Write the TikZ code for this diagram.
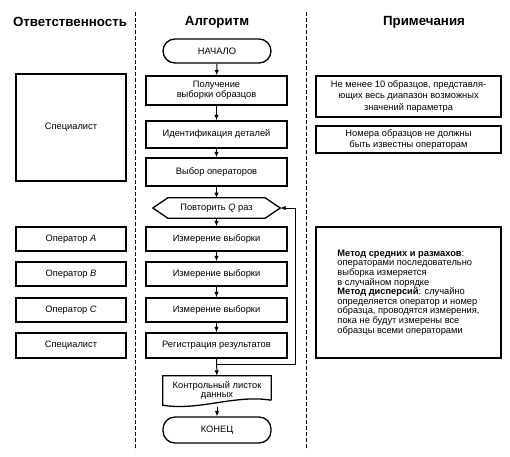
\documentclass[tikz,border=0pt]{standalone}
\usepackage{fontspec}
\setmainfont{Liberation Sans}
\usetikzlibrary{arrows.meta,calc}
\begin{document}
\begin{tikzpicture}[x=1pt,y=1pt,
  txt/.style={font=\fontsize{9.3}{10.5}\selectfont},
  box/.style={draw,line width=1.3pt,txt,align=center,inner sep=1pt},
  term/.style={box,rounded corners=12pt},
  hdr/.style={font=\fontsize{13.3}{15}\selectfont\bfseries},
  arr/.style={line width=1pt,-{Latex[length=5.5pt,width=4.5pt]}},
  lane/.style={line width=0.6pt,dash pattern=on 4pt off 2pt}]
\useasboundingbox (0,0) rectangle (510,-456);
% lanes
\coordinate (l1t) at (135,-12); \coordinate (l1b) at (135,-450);
\coordinate (l2t) at (306,-12); \coordinate (l2b) at (306,-450);
\draw[lane] (l1t) -- (l1b);
\draw[lane] (l2t) -- (l2b);
% headers
\node[hdr] (h1) at (70,-22) {Ответственность};
\node[hdr] (h2) at (217,-22) {Алгоритм};
\node[hdr] (h3) at (424,-22) {Примечания};
% middle column
\node[term,minimum width=108,minimum height=24] (start) at (217,-51) {НАЧАЛО};
\node[box,minimum width=141,minimum height=29] (get) at (216.5,-90.5) {Получение\\выборки образцов};
\node[box,minimum width=141,minimum height=27] (ident) at (216.5,-134.5) {Идентификация деталей};
\node[box,minimum width=141,minimum height=28] (choose) at (216.5,-172) {Выбор операторов};
\node[txt,minimum width=127,minimum height=20,inner sep=0pt] (hex) at (216.5,-208) {Повторить \textit{Q} раз};
\draw[line width=1.3pt,line join=miter] (hex.west) -- ([xshift=15pt]hex.north west) -- ([xshift=-15pt]hex.north east) -- (hex.east) -- ([xshift=-15pt]hex.south east) -- ([xshift=15pt]hex.south west) -- cycle;
\node[box,minimum width=141,minimum height=24] (m1) at (216.5,-239) {Измерение выборки};
\node[box,minimum width=141,minimum height=24] (m2) at (216.5,-274) {Измерение выборки};
\node[box,minimum width=141,minimum height=24] (m3) at (216.5,-310) {Измерение выборки};
\node[box,minimum width=141,minimum height=25] (reg) at (216.5,-345.5) {Регистрация результатов};
\node[txt,font=\fontsize{9.3}{9.8}\selectfont,align=center,minimum width=108,minimum height=29,inner sep=0pt] (doc) at (217,-390.5) {Контрольный листок\\данных};
\draw[line width=1.3pt,line join=miter] ([yshift=5pt]doc.south east) -- (doc.north east) -- (doc.north west) -- (doc.south west)
  .. controls +(36,-6) and +(-36,6) .. ([yshift=5pt]doc.south east);
\node[term,minimum width=108,minimum height=26] (end) at (217,-430) {КОНЕЦ};
% arrows
\draw[arr] (start) -- (get);
\draw[arr] (get) -- (ident);
\draw[arr] (ident) -- (choose);
\draw[arr] (choose) -- (hex.south |- 0,-198);
\draw[arr] (hex) -- (m1);
\draw[arr] (m1) -- (m2);
\draw[arr] (m2) -- (m3);
\draw[arr] (m3) -- (reg);
\draw[arr] (reg) -- (doc);
\draw[arr] ([yshift=-2pt]doc.south) -- (end);
\coordinate (lp) at (217,-364);
\coordinate (lpr) at (295,-364);
\draw[arr] (lp) -- (lpr) |- (hex.east);
% left column
\node[box,minimum width=110,minimum height=107] (s1) at (71,-127.5) {Специалист};
\node[box,minimum width=110,minimum height=24] (oa) at (71,-239) {Оператор \textit{A}};
\node[box,minimum width=110,minimum height=24] (ob) at (71,-274) {Оператор \textit{B}};
\node[box,minimum width=110,minimum height=24] (oc) at (71,-310) {Оператор \textit{C}};
\node[box,minimum width=110,minimum height=25] (s2) at (71,-345.5) {Специалист};
% right column
\node[box,font=\fontsize{9.3}{11.3}\selectfont,minimum width=185,minimum height=41] (n1) at (408.5,-96.5) {Не менее 10 образцов, представля-\\ющих весь диапазон возможных\\значений параметра};
\node[box,minimum width=185,minimum height=27] (n2) at (408.5,-139.5) {Номера образцов не должны\\быть известны операторам};
\node[box,font=\fontsize{9.3}{9.6}\selectfont,minimum width=185,minimum height=131,align=left] (n3) at (408.5,-292.5) {\textbf{Метод средних и размахов}:\\операторами последовательно\\выборка измеряется\\в случайном порядке\\\textbf{Метод дисперсий}: случайно\\определяется оператор и номер\\образца, проводятся измерения,\\пока не будут измерены все\\образцы всеми операторами};
\end{tikzpicture}
\end{document}
